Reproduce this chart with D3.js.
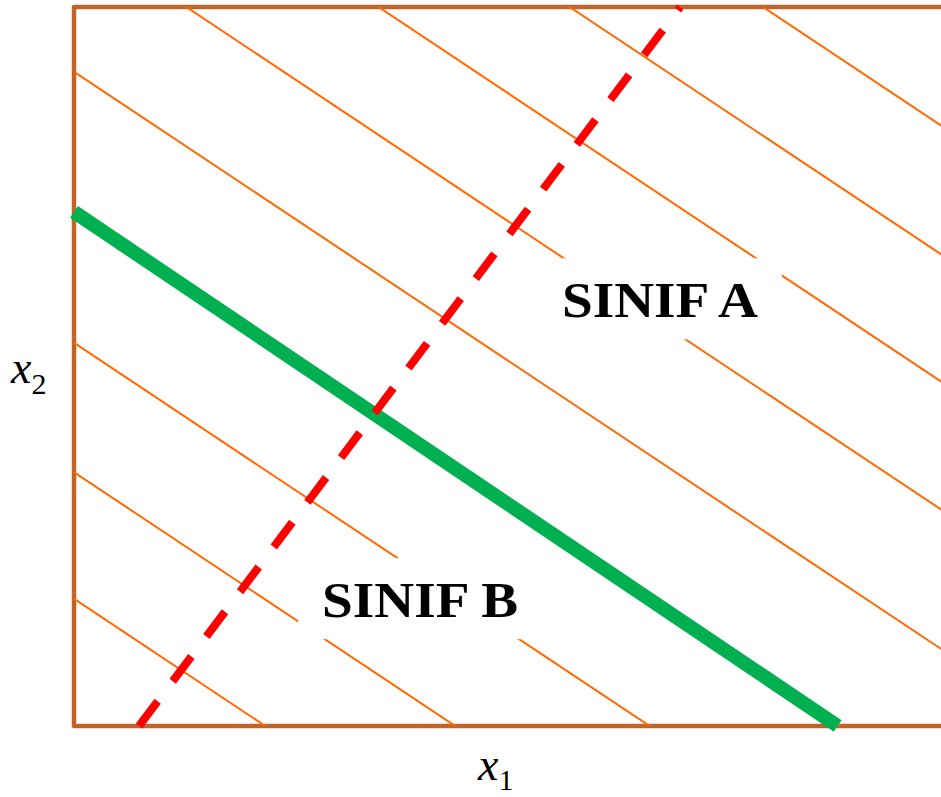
<!DOCTYPE html>
<html>
<head>
<meta charset="utf-8">
<script src="https://d3js.org/d3.v7.min.js"></script>
<style>
  body { margin: 0; background: #fff; }
</style>
</head>
<body>
<div id="my_dataviz"></div>
<script>
// data (x1, x2 units)
var hatchIntercepts = [1.77, 3.53, 5.33, 9.10, 11.04, 12.82, 14.59, 16.38]
var hatchSlope = -0.669
var greenLine = [{x1: 0, x2: 7.15}, {x1: 10.57, x2: 0}]
var redLine = [{x1: 0.90, x2: 0}, {x1: 8.39, x2: 10}]
var regionLabels = ["SINIF A", "SINIF B"]
var regionX1 = [8.11, 4.79]
var regionX2 = [5.92, 1.75]

// set the dimensions and margins of the graph
var margin = {top: 7, right: 0, bottom: 71, left: 74},
    width = 941 - margin.left - margin.right,
    height = 797 - margin.top - margin.bottom;

var svg = d3.select("#my_dataviz")
  .append("svg")
    .attr("width", 941)
    .attr("height", 797)

var g = svg.append("g")
    .attr("transform", "translate(" + margin.left + "," + margin.top + ")");

var x = d3.scaleLinear().domain([0, 12]).range([0, width])
var y = d3.scaleLinear().domain([0, 10]).range([height, 0])

var line = d3.line()
    .x(function(d) { return x(d.x1) })
    .y(function(d) { return y(d.x2) })

// axes box (top, left, bottom)
g.append("path")
  .attr("d", "M" + width + ",0 L0,0 L0," + height + " L" + width + "," + height)
  .attr("fill", "none")
  .attr("stroke", "#c0642a")
  .attr("stroke-width", 4.5)
  .attr("stroke-linejoin", "round")

g.append("clipPath")
  .attr("id", "box")
  .append("rect")
    .attr("x", 0).attr("y", 0)
    .attr("width", width).attr("height", height)

// hatch lines
g.append("g")
  .attr("clip-path", "url(#box)")
  .selectAll("path")
  .data(hatchIntercepts)
  .enter()
  .append("path")
    .attr("d", function(c) {
      return line([{x1: -1, x2: c - hatchSlope}, {x1: 30, x2: c + hatchSlope * 30}])
    })
    .attr("fill", "none")
    .attr("stroke", "#ff6a00")
    .attr("stroke-width", 2)

// region labels with white background
var labels = g.selectAll(".region")
  .data(regionLabels)
  .enter()
  .append("g")
  .attr("class", "region")

labels.append("rect")
  .attr("fill", "white")

labels.append("text")
  .attr("x", function(d, i) { return x(regionX1[i]) })
  .attr("y", function(d, i) { return y(regionX2[i]) + 17 })
  .attr("text-anchor", "middle")
  .attr("textLength", 196)
  .attr("lengthAdjust", "spacingAndGlyphs")
  .style("font-family", "'Liberation Serif', serif")
  .style("font-weight", "bold")
  .style("font-size", "50px")
  .text(function(d) { return d })

labels.each(function() {
  var t = d3.select(this).select("text").node().getBBox()
  var cx = t.x + t.width / 2
  var cy = d3.select(this).select("text").attr("y") - 17
  d3.select(this).select("rect")
    .attr("x", cx - 122)
    .attr("y", cy - 42)
    .attr("width", 244)
    .attr("height", 81)
})

// green line
g.append("path")
  .attr("d", line(greenLine))
  .attr("fill", "none")
  .attr("stroke", "#00b050")
  .attr("stroke-width", 14)

// red dashed line
g.append("path")
  .attr("d", line(redLine))
  .attr("fill", "none")
  .attr("stroke", "#ff0000")
  .attr("stroke-width", 8)
  .attr("stroke-dasharray", "31,25")

// axis labels
var xl = svg.append("text")
  .attr("x", 478)
  .attr("y", 780)
  .style("font-family", "'Liberation Serif', serif")
  .style("font-style", "italic")
  .style("font-size", "46px")
xl.append("tspan").text("x")
xl.append("tspan").attr("dy", 10).style("font-style", "normal").style("font-size", "30px").text("1")

var yl = svg.append("text")
  .attr("x", 11)
  .attr("y", 383)
  .style("font-family", "'Liberation Serif', serif")
  .style("font-style", "italic")
  .style("font-size", "46px")
yl.append("tspan").text("x")
yl.append("tspan").attr("dy", 11).style("font-style", "normal").style("font-size", "30px").text("2")
</script>
</body>
</html>
